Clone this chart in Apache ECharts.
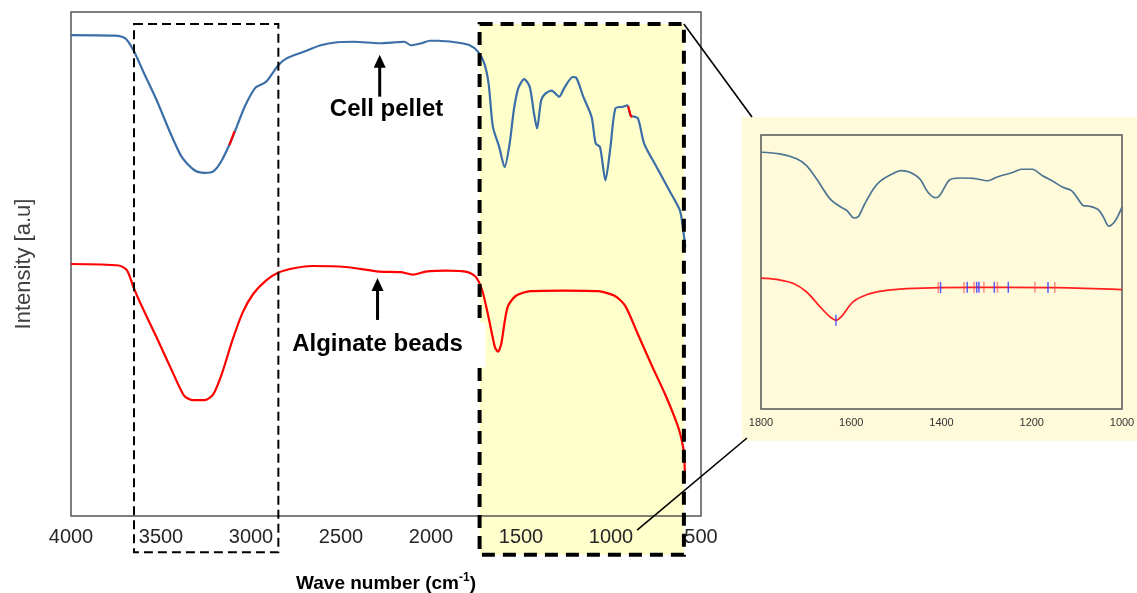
<!DOCTYPE html>
<html><head><meta charset="utf-8">
<script src="https://cdn.jsdelivr.net/npm/echarts@6/dist/echarts.min.js"></script>
<style>html,body{margin:0;padding:0;background:#fff}#c{width:1137px;height:593px}</style>
</head><body><div id="c"></div>
<script>
// ---------- data (wave number cm-1, intensity a.u.) ----------
const mainTicks = [4000, 3500, 3000, 2500, 2000, 1500, 1000, 500];
const insetTicks = [1800, 1600, 1400, 1200, 1000];

const cellPellet = [[4000,95.4],[3758,95.3],[3700,94.8],[3653,92.4],[3595,87.9],[3524,82.5],[3454,76.5],[3384,71.2],[3314,68.6],[3257,68.1],[3209,68.4],[3162,70.6],[3104,75.0],[3035,81.2],[2975,85.0],[2918,86.1],[2847,89.5],[2802,90.8],[2708,92.1],[2613,93.4],[2520,94.0],[2427,94.1],[2286,93.8],[2193,94.0],[2147,94.1],[2112,93.4],[2053,93.8],[2006,94.3],[1960,94.3],[1867,94.0],[1785,93.4],[1738,92.1],[1704,89.8],[1680,85.8],[1656,77.2],[1621,73.2],[1591,69.2],[1563,73.9],[1540,80.5],[1516,84.8],[1482,86.7],[1451,85.1],[1428,79.9],[1411,76.9],[1388,82.5],[1365,83.8],[1330,84.4],[1288,83.2],[1260,84.9],[1213,87.1],[1194,87.0],[1154,83.2],[1108,79.2],[1085,73.9],[1061,73.2],[1031,66.6],[1003,73.2],[975,80.9],[933,81.2],[909,81.5],[891,79.5],[851,78.9],[816,73.9],[746,69.2],[676,64.6],[617,60.6],[601,57.3],[587,53.3]];
const cellMark1 = [[3120,73.6],[3092,76.3]];
const cellMark2 = [[905,81.3],[891,79.5],[884,79.1]];

const alginate = [[4000,50.0],[3734,49.7],[3688,48.7],[3653,45.4],[3617,42.4],[3524,35.4],[3431,28.2],[3372,23.9],[3325,23.0],[3256,23.0],[3209,24.2],[3162,28.2],[3104,34.8],[3046,40.4],[2987,44.1],[2917,46.7],[2847,48.3],[2754,49.2],[2660,49.6],[2473,49.4],[2287,48.5],[2170,48.4],[2100,47.9],[2030,48.5],[1913,48.7],[1796,48.4],[1750,47.4],[1715,44.7],[1680,39.4],[1645,33.5],[1628,32.6],[1610,34.1],[1575,41.4],[1528,43.7],[1446,44.6],[1260,44.7],[1073,44.6],[980,43.7],[921,41.7],[851,36.1],[769,29.5],[700,24.2],[629,17.9],[606,14.9],[594,12.3],[589,7.6]];

const insetCell = [[1800,93.7],[1758,93.1],[1721,91.3],[1699,88.8],[1677,84.0],[1647,76.7],[1625,73.9],[1610,72.5],[1594,69.7],[1584,70.3],[1570,74.9],[1551,80.3],[1537,83.0],[1514,85.4],[1489,87.0],[1470,86.4],[1448,84.0],[1430,79.1],[1413,77.1],[1404,77.9],[1382,83.6],[1359,84.3],[1330,84.2],[1297,83.3],[1278,84.6],[1241,86.4],[1223,87.5],[1199,87.5],[1175,85.0],[1153,83.1],[1131,80.9],[1112,79.7],[1101,77.5],[1086,74.3],[1072,74.0],[1053,72.8],[1042,70.3],[1029,66.7],[1016,68.4],[1000,73.7]];
const insetAlginate = [[1800,47.8],[1765,47.3],[1728,45.8],[1699,42.7],[1669,37.3],[1647,33.6],[1634,32.4],[1621,33.9],[1596,39.1],[1566,41.7],[1529,43.1],[1477,43.9],[1404,44.3],[1256,44.4],[1145,44.3],[1000,43.6]];
const insetRedPeaks = [[1407,44.3],[1350,44.3],[1328,44.4],[1306,44.4],[1276,44.4],[1193,44.4],[1149,44.3]];
const insetBluePeaks = [[1634,32.4],[1402,44.3],[1343,44.4],[1322,44.4],[1317,44.4],[1283,44.4],[1252,44.4],[1164,44.3]];

// annotation boxes [wnStart, wnEnd, vBottom, vTop]
const boxOH = [3650, 2848, -7.2, 97.6];
const boxFP = [1730, 595, -7.7, 97.6];
const cellArrow = [[2285, 83.2], [2285, 91.5]];
const cellLabel = [2247, 80.6, 'Cell pellet'];
const algArrow = [[2297, 38.9], [2297, 47.2]];
const algLabel = [2297, 34.1, 'Alginate beads'];
const zoomLinkStart = [855, -2.8];

const FONT = 'Liberation Sans, Arial, Helvetica, sans-serif';
const BLUE = '#3b6ea6', RED = '#ff0000';

const chart = echarts.init(document.getElementById('c'), null, {renderer: 'canvas'});
const option = {
  animation: false,
  backgroundColor: '#fff',
  grid: [
    {left: 71, top: 12, width: 630, height: 504, show: true, borderColor: '#555', borderWidth: 1.5, backgroundColor: 'transparent', containLabel: false, outerBoundsMode: 'none'},
    {left: 761, top: 135, width: 361, height: 274, show: true, borderColor: '#555', borderWidth: 1.5, backgroundColor: 'transparent', containLabel: false, outerBoundsMode: 'none'}
  ],
  xAxis: [
    {type: 'value', gridIndex: 0, min: 500, max: 4000, interval: 500, inverse: true,
     axisLine: {show: false}, axisTick: {show: false}, splitLine: {show: false},
     axisLabel: {fontSize: 20, color: '#262626', fontFamily: FONT, margin: 11,
       formatter: v => mainTicks.includes(v) ? String(v) : ''},
     name: '{b|Wave number (cm}{s|-1}{b|)}', nameLocation: 'middle', nameGap: 56,
     nameTextStyle: {rich: {
       b: {fontSize: 19, fontWeight: 'bold', color: '#000', fontFamily: FONT, lineHeight: 23},
       s: {fontSize: 12, fontWeight: 'bold', color: '#000', fontFamily: FONT, verticalAlign: 'top', lineHeight: 23, padding: [0,0,8,0]}
     }}},
    {type: 'value', gridIndex: 1, min: 1000, max: 1800, interval: 200, inverse: true,
     axisLine: {show: false}, axisTick: {show: false}, splitLine: {show: false},
     axisLabel: {fontSize: 11, color: '#333', fontFamily: FONT, margin: 8,
       formatter: v => insetTicks.includes(v) ? String(v) : ''}}
  ],
  yAxis: [
    {type: 'value', gridIndex: 0, min: 0, max: 100,
     axisLine: {show: false}, axisTick: {show: false}, splitLine: {show: false}, axisLabel: {show: false},
     name: 'Intensity [a.u]', nameLocation: 'middle', nameGap: 36,
     nameTextStyle: {fontSize: 22, color: '#404040', fontFamily: FONT}},
    {type: 'value', gridIndex: 1, min: 0, max: 100,
     axisLine: {show: false}, axisTick: {show: false}, splitLine: {show: false}, axisLabel: {show: false}}
  ],
  series: [
    {name: 'Cell pellet', type: 'line', xAxisIndex: 0, yAxisIndex: 0, data: cellPellet, showSymbol: false, smooth: 0.25,
     lineStyle: {color: BLUE, width: 2.2}, z: 3},
    {name: 'Cell pellet mark 1', type: 'line', xAxisIndex: 0, yAxisIndex: 0, data: cellMark1, showSymbol: false,
     lineStyle: {color: RED, width: 2.2}, z: 4},
    {name: 'Cell pellet mark 2', type: 'line', xAxisIndex: 0, yAxisIndex: 0, data: cellMark2, showSymbol: false,
     lineStyle: {color: RED, width: 2.2}, z: 4},
    {name: 'Alginate beads', type: 'line', xAxisIndex: 0, yAxisIndex: 0, data: alginate, showSymbol: false, smooth: 0.25,
     lineStyle: {color: RED, width: 2.2}, z: 3},
    {name: 'Inset cell pellet', type: 'line', xAxisIndex: 1, yAxisIndex: 1, data: insetCell, showSymbol: false, smooth: 0.3,
     lineStyle: {color: '#4c7591', width: 1.7}, z: 3},
    {name: 'Inset alginate', type: 'line', xAxisIndex: 1, yAxisIndex: 1, data: insetAlginate, showSymbol: false, smooth: 0.35,
     lineStyle: {color: '#ff2020', width: 1.7}, z: 3},
    {name: 'Red peaks', type: 'scatter', xAxisIndex: 1, yAxisIndex: 1, data: insetRedPeaks, symbol: 'rect', symbolSize: [1.5, 11],
     itemStyle: {color: 'rgba(255,70,70,0.75)'}, z: 4},
    {name: 'Blue peaks', type: 'scatter', xAxisIndex: 1, yAxisIndex: 1, data: insetBluePeaks, symbol: 'rect', symbolSize: [1.5, 11],
     itemStyle: {color: '#3434ff'}, z: 5}
  ]
};
chart.setOption(option);

function P(g, x, y) { return chart.convertToPixel({gridIndex: g}, [x, y]); }

const g = [];
// inset panel background
const ig = option.grid[1];
const panel = {x: ig.left - 19, y: ig.top - 18, w: 1137 - (ig.left - 19), h: ig.height + 18 + 32};
g.push({type: 'rect', z: -1, shape: {x: panel.x, y: panel.y, width: panel.w, height: panel.h}, style: {fill: '#fffad9'}});

// boxes
function boxRect(b) {
  const a = P(0, b[0], b[3]), c = P(0, b[1], b[2]);
  return {x: a[0], y: a[1], width: c[0] - a[0], height: c[1] - a[1]};
}
const rOH = boxRect(boxOH), rFP = boxRect(boxFP);
g.push({type: 'rect', z: -1, shape: rFP, style: {fill: '#ffffcc'}});
g.push({type: 'rect', z: 20, shape: rOH, style: {fill: 'none', stroke: '#000', lineWidth: 2, lineDash: [9, 5]}});
g.push({type: 'rect', z: 20, shape: rFP, style: {fill: 'none', stroke: '#000', lineWidth: 4, lineDash: [13, 8]}});

// connector lines
g.push({type: 'line', z: 21, shape: {x1: rFP.x + rFP.width, y1: rFP.y, x2: panel.x + 10, y2: panel.y}, style: {stroke: '#000', lineWidth: 1.6}});
const ls = P(0, zoomLinkStart[0], zoomLinkStart[1]);
g.push({type: 'line', z: 21, shape: {x1: ls[0], y1: ls[1], x2: panel.x + 5, y2: panel.y + panel.h - 3}, style: {stroke: '#000', lineWidth: 1.6}});

// arrows
function arrow(a) {
  const t = P(0, a[0][0], a[0][1]), h = P(0, a[1][0], a[1][1]);
  g.push({type: 'line', z: 22, shape: {x1: t[0], y1: t[1], x2: h[0], y2: h[1] + 10}, style: {stroke: '#000', lineWidth: 3}});
  g.push({type: 'polygon', z: 22, shape: {points: [[h[0], h[1]], [h[0] - 6, h[1] + 13], [h[0] + 6, h[1] + 13]]}, style: {fill: '#000'}});
}
arrow(cellArrow); arrow(algArrow);

// labels
const al = P(0, algLabel[0], algLabel[1]);
g.push({type: 'rect', z: 21, shape: {x: al[0] - 90, y: al[1] - 22, width: 198, height: 45}, style: {fill: '#fff'}});
function label(l) {
  const p = P(0, l[0], l[1]);
  g.push({type: 'text', z: 23, x: p[0], y: p[1], style: {text: l[2], fill: '#000', font: 'bold 24px ' + FONT,
    textAlign: 'center', textVerticalAlign: 'middle', verticalAlign: 'middle'}});
}
label(cellLabel); label(algLabel);

chart.setOption({graphic: {elements: g}});
</script>
</body></html>
